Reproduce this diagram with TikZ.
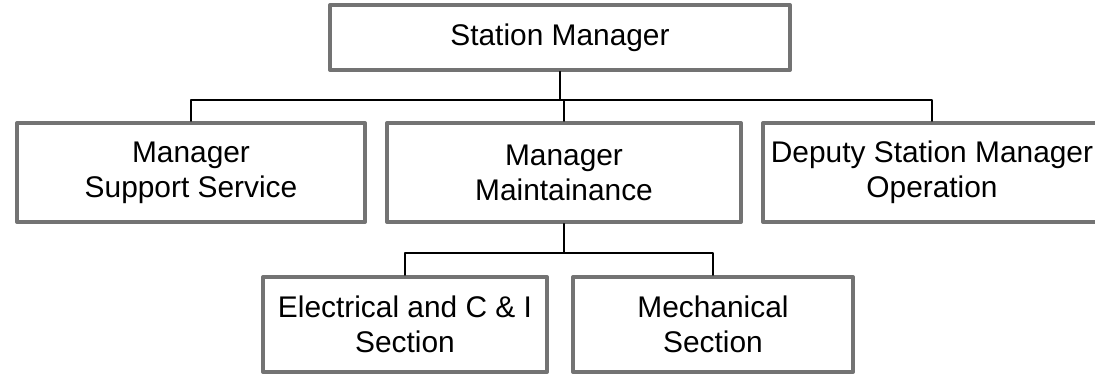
\documentclass[tikz,border=0pt]{standalone}
\usepackage{fontspec}
\setmainfont{Liberation Sans}
\begin{document}
\begin{tikzpicture}[every node/.style={font=\fontsize{25.5}{30}\selectfont}, line cap=round, line join=round]
  \tikzset{post/.style={draw=black!55, line width=3.4pt, inner sep=0pt, align=center}, link/.style={draw=black, line width=1.6pt}}
  \useasboundingbox (0,0) rectangle (32.85,11.25);

  % top of the chart: the station manager.
  \node[post, minimum width=13.8cm, minimum height=1.95cm] (chief) at (16.8,10.125) {Station Manager};

  % second row: the three managers under him.
  \node[post, minimum width=10.44cm, minimum height=2.97cm] (support) at (5.73,6.075) {Manager\\Support Service};
  \node[post, minimum width=10.62cm, minimum height=2.97cm] (maint) at (16.92,6.075) {Manager\\Maintainance};
  \node[post, minimum width=10.14cm, minimum height=2.97cm] (deputy) at (27.96,6.075) {Deputy Station Manager\\Operation};

  % third row: the two sections of maintainance.
  \node[post, minimum width=8.52cm, minimum height=2.85cm] (elec) at (12.15,1.515) {Electrical and C \& I\\Section};
  \node[post, minimum width=8.4cm, minimum height=2.85cm] (mech) at (21.39,1.515) {Mechanical\\Section};

  \foreach \c in {support,maint,deputy} {
    \draw[link] (chief.south) -- ++(0,-.84) -| (\c.north);
  }
  \foreach \c in {elec,mech} {
    \draw[link] (maint.south) -- ++(0,-.87) -| (\c.north);
  }
\end{tikzpicture}
\end{document}
